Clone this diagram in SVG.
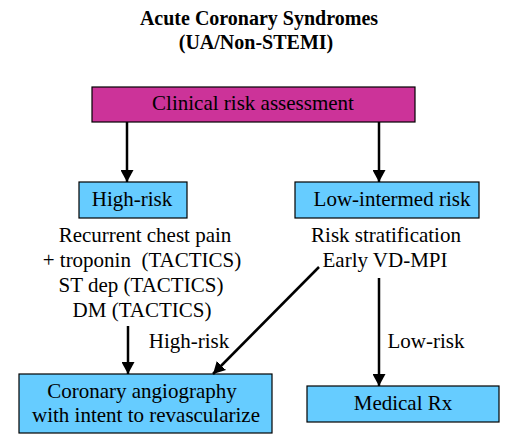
<svg xmlns="http://www.w3.org/2000/svg" width="509" height="446" viewBox="0 0 509 446" font-family="'Liberation Serif', 'DejaVu Serif', serif">
<style>
text{font-family:'Liberation Serif','DejaVu Serif',serif;font-size:21px;fill:#000;text-anchor:middle}
.title{font-weight:bold;font-size:20px}
.box{stroke:#000;stroke-width:1.2}
.blue{fill:#66CCFF}
.mag{fill:#CC3399}
.conn line{stroke:#000;stroke-width:2.5;marker-end:url(#ah)}
</style>
<defs>
<marker id="ah" markerUnits="userSpaceOnUse" markerWidth="13" markerHeight="13" refX="12" refY="6.5" orient="auto">
<path d="M0,0 L12,6.5 L0,13 z" fill="#000"/>
</marker>
</defs>
<rect width="509" height="446" fill="#fff"/>
<g id="title">
<text class="title" x="259" y="25">Acute Coronary Syndromes</text>
<text class="title" x="256" y="49">(UA/Non-STEMI)</text>
</g>
<g id="clinical">
<rect class="box mag" x="92" y="87" width="323" height="35"/>
<text x="253" y="110">Clinical risk assessment</text>
</g>
<g id="highrisk">
<rect class="box blue" x="79" y="182" width="108" height="36"/>
<text x="132" y="206">High-risk</text>
</g>
<g id="lowrisk">
<rect class="box blue" x="295" y="182" width="184" height="36"/>
<text x="392" y="206">Low-intermed risk</text>
</g>
<g id="highcriteria">
<text x="145" y="242">Recurrent chest pain</text>
<text x="142" y="267" xml:space="preserve">+ troponin  (TACTICS)</text>
<text x="141" y="292">ST dep (TACTICS)</text>
<text x="142" y="317">DM (TACTICS)</text>
</g>
<g id="stratification">
<text x="386" y="242">Risk stratification</text>
<text x="385" y="267">Early VD-MPI</text>
</g>
<g id="angiography">
<rect class="box blue" x="19" y="374" width="253" height="59"/>
<text x="142" y="398">Coronary angiography</text>
<text x="146" y="422">with intent to revascularize</text>
</g>
<g id="medical">
<rect class="box blue" x="307" y="386" width="192" height="36"/>
<text x="403" y="410">Medical Rx</text>
</g>
<g class="conn" id="connectors">
<line x1="127" y1="122" x2="127" y2="182"/>
<line x1="379" y1="122" x2="379" y2="182"/>
<line x1="128" y1="326" x2="128" y2="374"/>
<line x1="319" y1="267" x2="213" y2="374"/>
<line x1="379" y1="278" x2="379" y2="386"/>
</g>
<g id="labels">
<text x="189" y="348">High-risk</text>
<text x="426" y="348">Low-risk</text>
</g>
</svg>
